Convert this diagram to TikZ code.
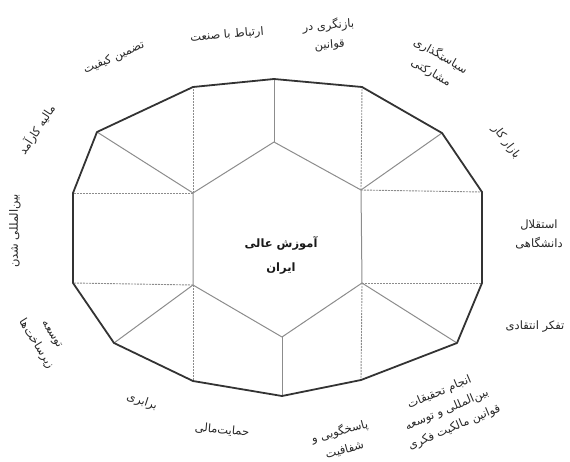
\documentclass[tikz,border=0pt]{standalone}
\usepackage{fontspec}
\usepackage{tikz}
\usetikzlibrary{positioning}
\newfontfamily\farsi[Script=Arabic]{DejaVu Sans}
\TeXXeTstate=1
\newcommand{\fa}[1]{\beginR #1\endR}

\begin{document}
\begin{tikzpicture}[x=1pt, y=-1pt,
  rim/.style={draw=black!80, line width=1.8pt, line join=round},
  spoke/.style={draw=black!45, line width=1pt, line join=round},
  seam/.style={draw=black!45, line width=0.9pt, dash pattern=on 2pt off 1pt},
  lbl/.style={font=\farsi\fontsize{11.5}{19}\selectfont, text=black!85, align=center, inner sep=1pt},
  hub/.style={font=\farsi\bfseries\fontsize{11.5}{16}\selectfont, text=black!90, align=center}
]
  \useasboundingbox (0,0) rectangle (570,461);

  % Outer rim
  \coordinate (o1) at (274,79);
  \coordinate (o2) at (193,87);
  \coordinate (o3) at (97,132);
  \coordinate (o4) at (73,193);
  \coordinate (o5) at (73,283);
  \coordinate (o6) at (114,343);
  \coordinate (o7) at (193,381);
  \coordinate (o8) at (282,396);
  \coordinate (o9) at (361,380);
  \coordinate (o10) at (457,343);
  \coordinate (o11) at (482,283);
  \coordinate (o12) at (482,192);
  \coordinate (o13) at (442,133);
  \coordinate (o14) at (362,87);

  % Inner hexagon
  \coordinate (h1) at (274,142);
  \coordinate (h2) at (193,193);
  \coordinate (h3) at (193,285);
  \coordinate (h4) at (282,337);
  \coordinate (h5) at (362,283);
  \coordinate (h6) at (361,190);

  % Seams
  \draw[seam] (h2) -- (o2);
  \draw[seam] (h2) -- (o4);
  \draw[seam] (h3) -- (o5);
  \draw[seam] (h3) -- (o7);
  \draw[seam] (h5) -- (o9);
  \draw[seam] (h5) -- (o11);
  \draw[seam] (h6) -- (o12);
  \draw[seam] (h6) -- (o14);

  % Spokes
  \draw[spoke] (h1) -- (o1);
  \draw[spoke] (h2) -- (o3);
  \draw[spoke] (h3) -- (o6);
  \draw[spoke] (h4) -- (o8);
  \draw[spoke] (h5) -- (o10);
  \draw[spoke] (h6) -- (o13);
  \draw[spoke] (h1) -- (h2) -- (h3) -- (h4) -- (h5) -- (h6) -- cycle;

  \draw[rim] (o1) -- (o2) -- (o3) -- (o4) -- (o5) -- (o6) -- (o7) -- (o8)
    -- (o9) -- (o10) -- (o11) -- (o12) -- (o13) -- (o14) -- cycle;

  % Labels
  \node[hub] (core) at (281,255) {\fa{آموزش عالی}\\[8pt]\fa{ایران}};

  \node[lbl, rotate=5] (industry) at (227,35) {\fa{ارتباط با صنعت}};
  \node[lbl, rotate=4] (laws) at (329,35) {\fa{بازنگری در}\\\fa{قوانین}};
  \node[lbl, rotate=24] (quality) at (114,58) {\fa{تضمین کیفیت}};
  \node[lbl, rotate=-30] (policy) at (436,64) {\fa{سیاستگذاری}\\\fa{مشارکتی}};
  \node[lbl, rotate=-53] (labour) at (506,142) {\fa{بازار کار}};
  \node[lbl] (autonomy) at (539,234) {\fa{استقلال}\\\fa{دانشگاهی}};
  \node[lbl] (critical) at (535,327) {\fa{تفکر انتقادی}};
  \node[lbl, rotate=23] (research) at (447,410) {\fa{انجام تحقیقات}\\\fa{بین‌المللی و توسعه}\\\fa{قوانین مالکیت فکری}};
  \node[lbl, rotate=15] (account) at (342,440) {\fa{پاسخگویی و}\\\fa{شفافیت}};
  \node[lbl, rotate=-5] (funding) at (222,430) {\fa{حمایت‌مالی}};
  \node[lbl, rotate=-18] (equity) at (142,402) {\fa{برابری}};
  \node[lbl, rotate=-58] (infra) at (43,340) {\fa{توسعه}\\\fa{زیرساخت‌ها}};
  \node[lbl, rotate=90] (global) at (15,231) {\fa{بین‌المللی شدن}};
  \node[lbl, rotate=57] (finance) at (37,130) {\fa{مالیه کارآمد}};
\end{tikzpicture}
\end{document}
